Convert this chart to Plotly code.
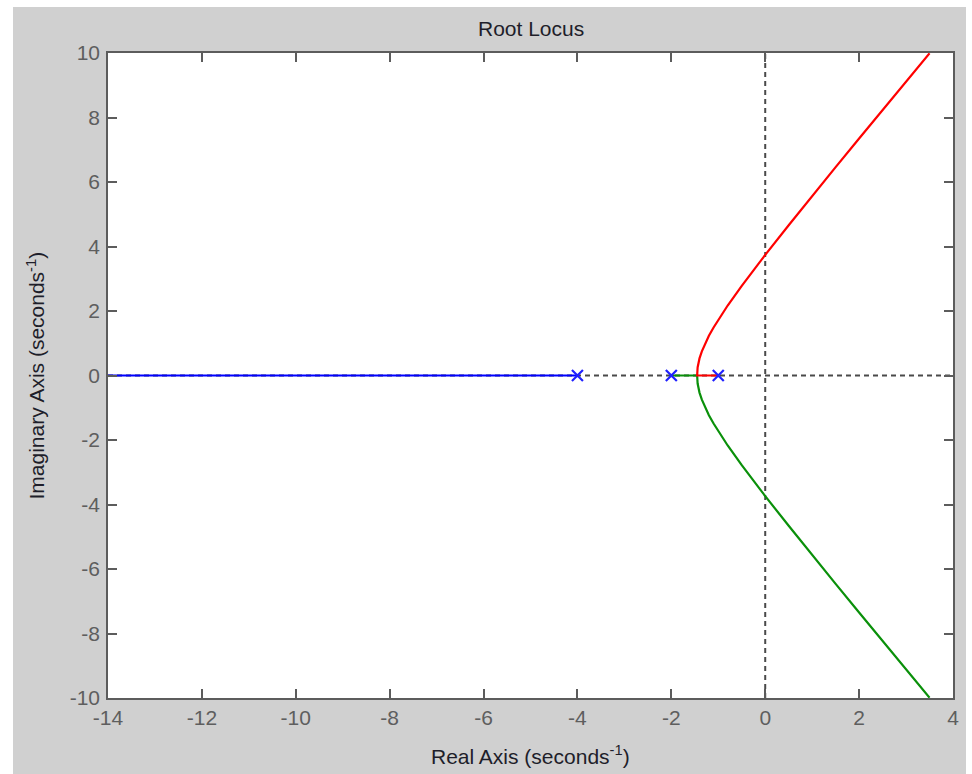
import plotly.graph_objects as go

# ---- data ----
pole_re = [-4, -2, -1]
pole_im = [0, 0, 0]

blue_re = [-4, -14]
blue_im = [0, 0]

red_re = [-1.0, -1.45, -1.44, -1.42, -1.4, -1.35, -1.3, -1.2, -1.1, -1.0, -0.8, -0.5, 0.0,
          0.5, 1.0, 1.5, 2.0, 2.5, 3.0, 3.5]
red_im = [0.0, 0.0, 0.25, 0.41, 0.53, 0.75, 0.93, 1.23, 1.49, 1.73, 2.17, 2.78, 3.74,
          4.66, 5.57, 6.46, 7.35, 8.23, 9.11, 9.99]

green_re = [-2.0, -1.45, -1.44, -1.42, -1.4, -1.35, -1.3, -1.2, -1.1, -1.0, -0.8, -0.5, 0.0,
            0.5, 1.0, 1.5, 2.0, 2.5, 3.0, 3.5]
green_im = [0.0, 0.0, -0.25, -0.41, -0.53, -0.75, -0.93, -1.23, -1.49, -1.73, -2.17, -2.78, -3.74,
            -4.66, -5.57, -6.46, -7.35, -8.23, -9.11, -9.99]

x_range = [-14, 4]
y_range = [-10, 10]
x_ticks = [-14, -12, -10, -8, -6, -4, -2, 0, 2, 4]
y_ticks = [-10, -8, -6, -4, -2, 0, 2, 4, 6, 8, 10]

title_text = "Root Locus"
x_title = "Real Axis (seconds<sup>-1</sup>)"
y_title = "Imaginary Axis (seconds<sup>-1</sup>)"

FONT = "Liberation Sans, Arial, sans-serif"
AXIS_COL = "#5c5c5c"
DASH_COL = "#4a4a4a"
LABEL_COL = "#1e1e2a"
TICK_COL = "#5e5e5e"
FS = 21

fig = go.Figure()

# dashed reference lines through the origin
fig.add_trace(go.Scatter(x=x_range, y=[0, 0], mode="lines",
                         line=dict(color=DASH_COL, width=2, dash="5px,4px"),
                         hoverinfo="skip", showlegend=False))
fig.add_trace(go.Scatter(x=[0, 0], y=y_range, mode="lines",
                         line=dict(color=DASH_COL, width=2, dash="5px,4px"),
                         hoverinfo="skip", showlegend=False))

fig.add_trace(go.Scatter(x=blue_re, y=blue_im, mode="lines",
                         line=dict(color="#0000ff", width=2.2), showlegend=False))
fig.add_trace(go.Scatter(x=green_re, y=green_im, mode="lines",
                         line=dict(color="#0a900a", width=2.2), showlegend=False))
fig.add_trace(go.Scatter(x=red_re, y=red_im, mode="lines",
                         line=dict(color="#ff0000", width=2.2), showlegend=False))
fig.add_trace(go.Scatter(x=pole_re, y=pole_im, mode="markers",
                         marker=dict(symbol="x-thin", size=11,
                                     line=dict(color="#2020ff", width=2.2)),
                         showlegend=False))

# left/top/right/bottom in pixels of the 972x774 page
L, R, T, B = 108, 953, 53, 698
W, H = 972, 774
pw, ph = R - L, B - T

def px(xp):
    return (xp - L) / pw

def py(yp):
    return (B - yp) / ph

# gray figure background (white strip on the left / top edge), white axes area
fig.add_shape(type="rect", xref="paper", yref="paper",
              x0=px(13), x1=px(966), y0=py(774), y1=py(7),
              fillcolor="#d0d0d0", line=dict(width=0), layer="below")
fig.add_shape(type="rect", xref="paper", yref="paper",
              x0=0, x1=1, y0=0, y1=1,
              fillcolor="#ffffff", line=dict(width=0), layer="below")

axis_common = dict(showgrid=False, zeroline=False, showline=True, linecolor=AXIS_COL,
                   linewidth=1.5, mirror="allticks", ticks="inside", ticklen=9,
                   tickwidth=1.5, tickcolor=AXIS_COL,
                   tickfont=dict(family=FONT, size=FS, color=TICK_COL))

fig.update_xaxes(range=x_range, tickvals=x_ticks, ticktext=[str(v) for v in x_ticks],
                 **axis_common)
fig.update_yaxes(range=y_range, tickvals=y_ticks, ticktext=[str(v) for v in y_ticks],
                 ticklabelstandoff=2, **axis_common)

fig.add_annotation(text=title_text, xref="paper", yref="paper", x=0.5, y=py(29),
                   showarrow=False, xanchor="center", yanchor="middle",
                   font=dict(family=FONT, size=FS, color=LABEL_COL))
fig.add_annotation(text=x_title, xref="paper", yref="paper", x=0.5, y=py(755),
                   showarrow=False, xanchor="center", yanchor="middle",
                   font=dict(family=FONT, size=FS, color=LABEL_COL))
fig.add_annotation(text=y_title, xref="paper", yref="paper", x=px(35), y=0.5,
                   showarrow=False, xanchor="center", yanchor="middle", textangle=-90,
                   font=dict(family=FONT, size=FS, color=LABEL_COL))

fig.update_layout(width=W, height=H,
                  margin=dict(l=L, r=W - R, t=T, b=H - B, pad=0),
                  paper_bgcolor="#ffffff", plot_bgcolor="#ffffff",
                  showlegend=False)

fig.write_html("out.html", config={"displayModeBar": False},
               post_script="document.body.style.margin='0px';")
